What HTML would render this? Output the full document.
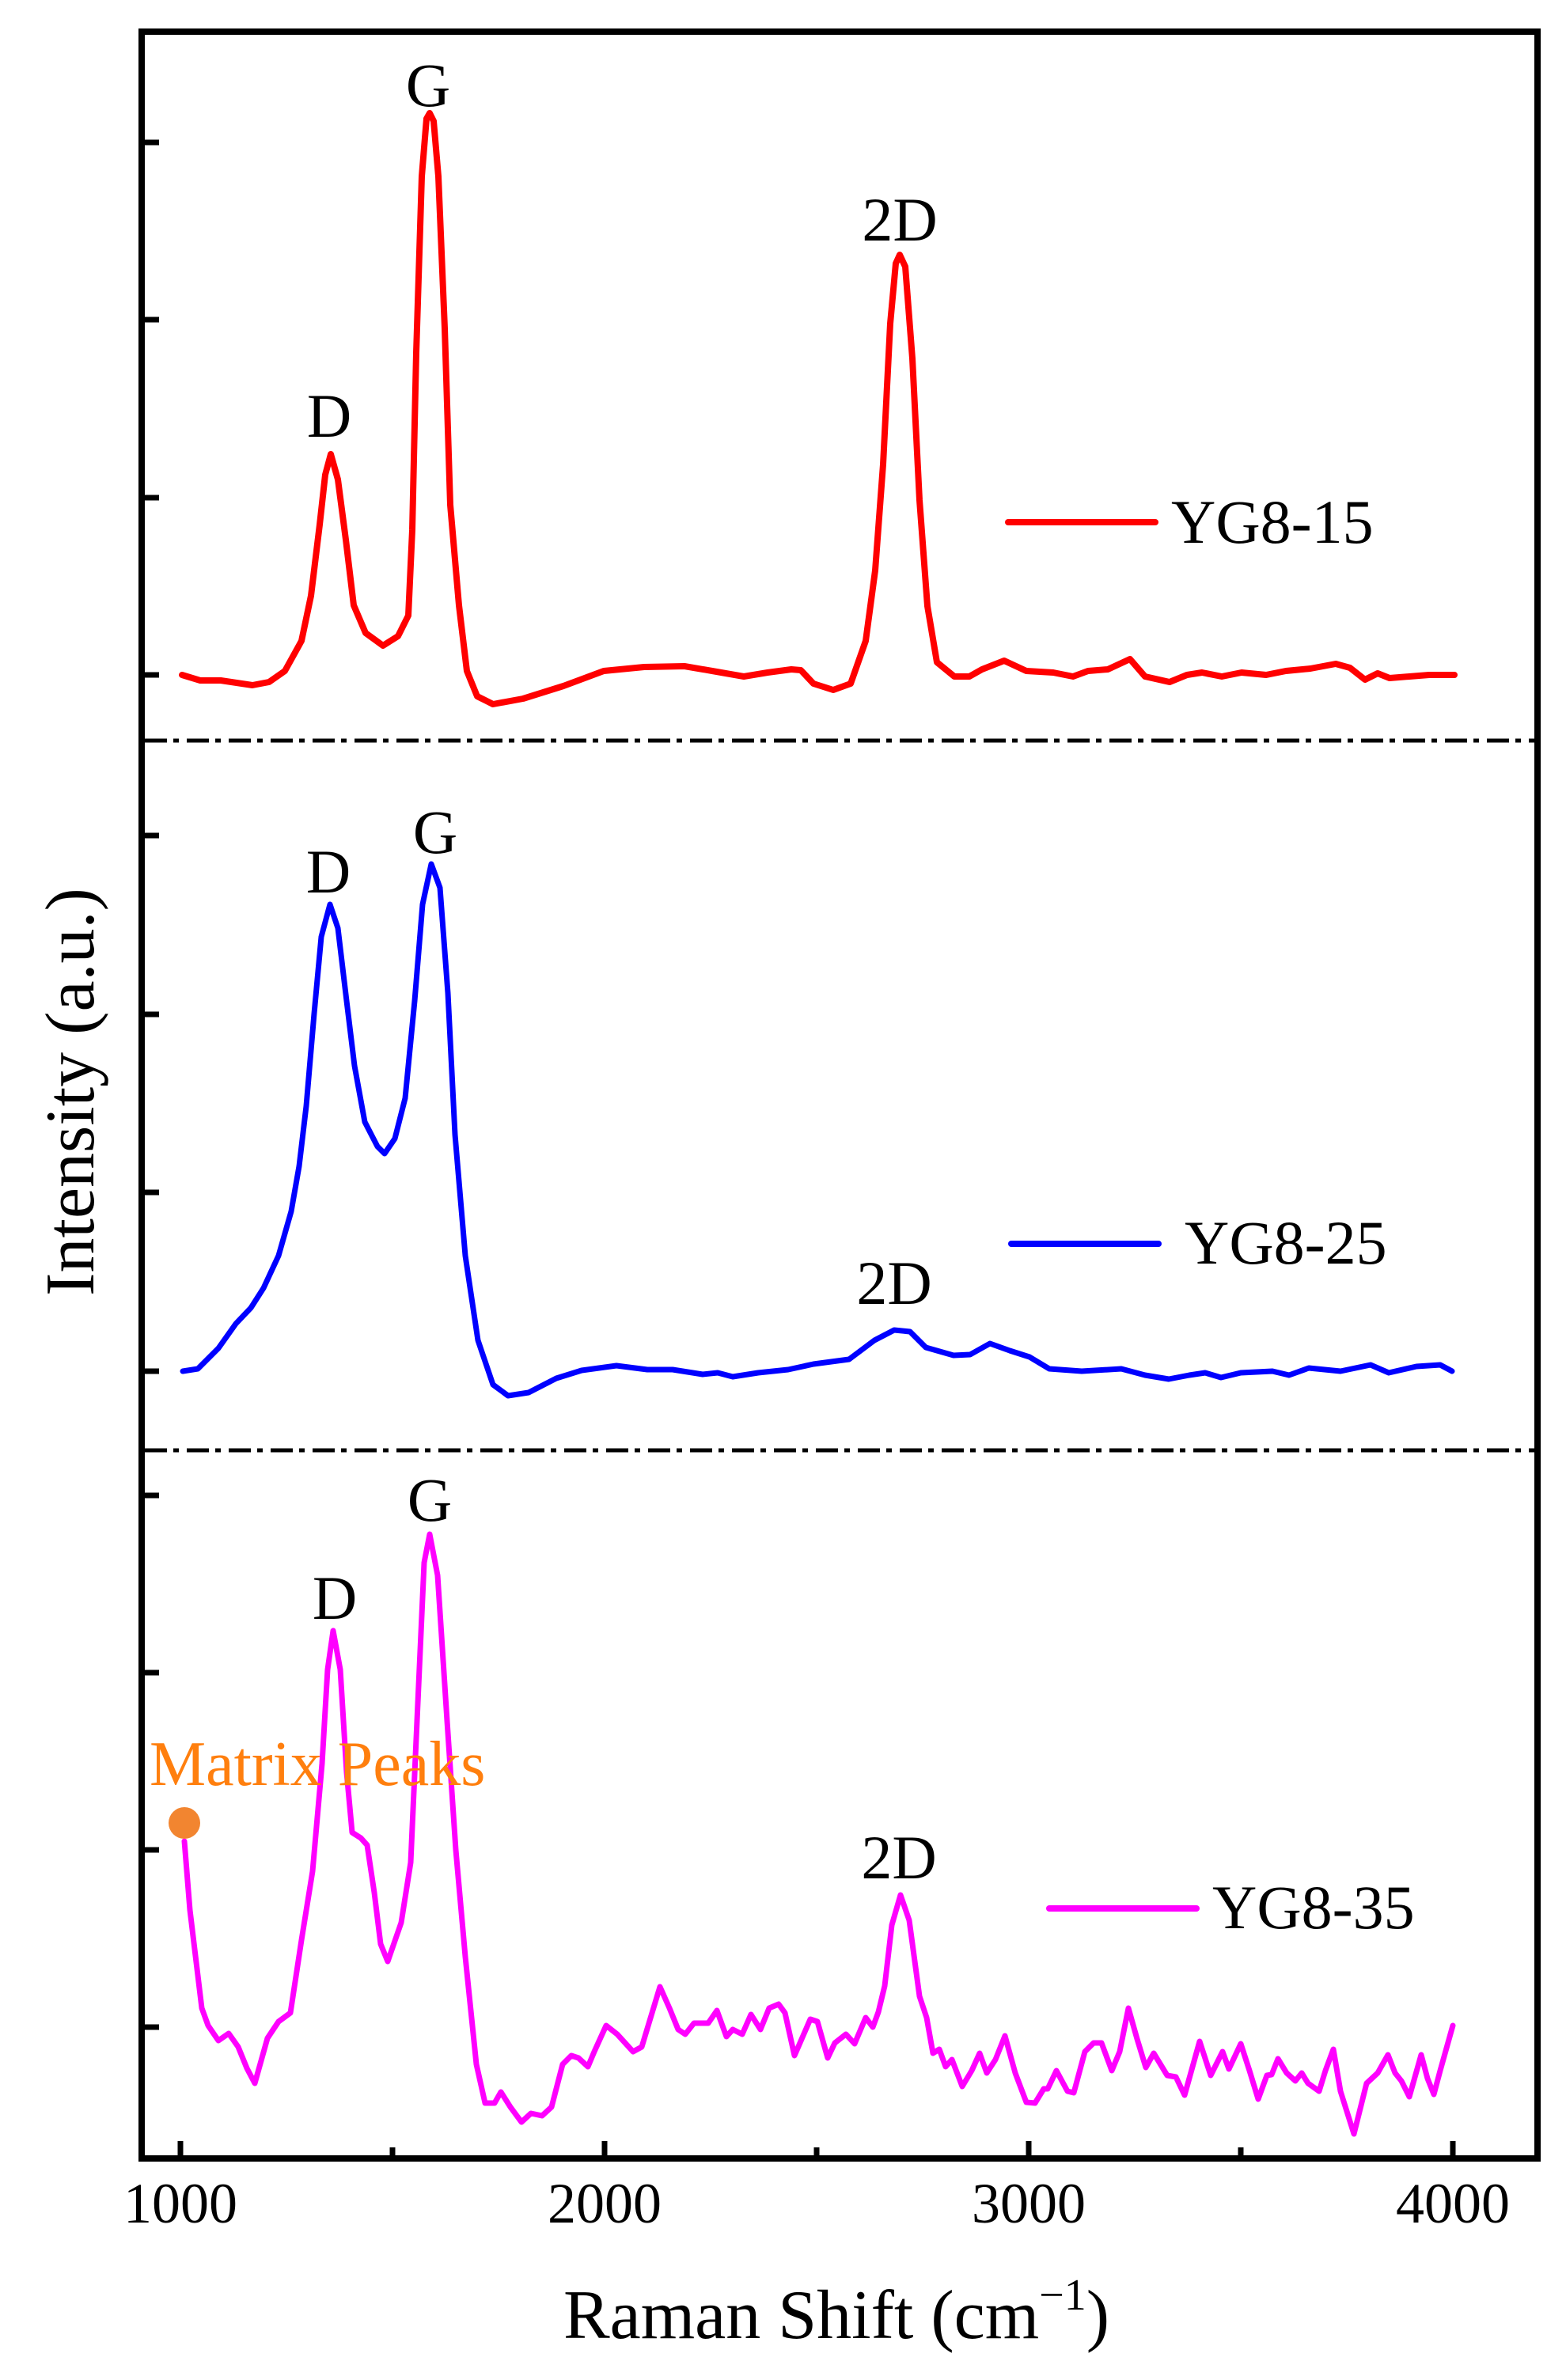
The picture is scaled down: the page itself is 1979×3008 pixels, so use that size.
<!DOCTYPE html>
<html><head><meta charset="utf-8"><style>
html,body{margin:0;padding:0;background:#fff;}
svg{display:block;}
text{font-family:"Liberation Serif","Times New Roman",serif;fill:#000;}
</style></head><body>
<svg width="1979" height="3008" viewBox="0 0 1979 3008" xmlns="http://www.w3.org/2000/svg">
<rect width="1979" height="3008" fill="#fff"/>
<!-- dash-dot separators -->
<g stroke="#000" stroke-width="5" stroke-dasharray="28,8,7,10" fill="none">
<line x1="183" y1="936" x2="1940" y2="936"/>
<line x1="183" y1="1833" x2="1940" y2="1833"/>
</g>
<!-- frame -->
<rect x="179" y="40" width="1764" height="2688" fill="none" stroke="#000" stroke-width="8"/>
<!-- y ticks -->
<g stroke="#000" stroke-width="7">
<line x1="179" y1="180" x2="201" y2="180"/><line x1="179" y1="404" x2="201" y2="404"/><line x1="179" y1="629" x2="201" y2="629"/><line x1="179" y1="853" x2="201" y2="853"/>
<line x1="179" y1="1056" x2="201" y2="1056"/><line x1="179" y1="1282" x2="201" y2="1282"/><line x1="179" y1="1507" x2="201" y2="1507"/><line x1="179" y1="1733" x2="201" y2="1733"/>
<line x1="179" y1="1890" x2="201" y2="1890"/><line x1="179" y1="2114" x2="201" y2="2114"/><line x1="179" y1="2338" x2="201" y2="2338"/><line x1="179" y1="2562" x2="201" y2="2562"/>
<!-- x ticks -->
<line x1="228" y1="2728" x2="228" y2="2706"/><line x1="764" y1="2728" x2="764" y2="2706"/><line x1="1300" y1="2728" x2="1300" y2="2706"/><line x1="1836" y1="2728" x2="1836" y2="2706"/>
<line x1="496" y1="2728" x2="496" y2="2714"/><line x1="1032" y1="2728" x2="1032" y2="2714"/><line x1="1568" y1="2728" x2="1568" y2="2714"/>
</g>
<!-- tick labels -->
<g font-size="72" text-anchor="middle">
<text x="228" y="2809">1000</text><text x="764" y="2809">2000</text><text x="1300" y="2809">3000</text><text x="1836" y="2809">4000</text>
</g>
<text x="1057" y="2955" font-size="88" text-anchor="middle">Raman Shift (cm<tspan font-size="56" dy="-36">−1</tspan><tspan dy="36">)</tspan></text>
<text transform="translate(118,1380) rotate(-90)" font-size="88" text-anchor="middle">Intensity (a.u.)</text>

<!-- red -->
<polyline fill="none" stroke="#ff0000" stroke-width="8" stroke-linejoin="round" stroke-linecap="round" points="230,853 253,860 279,860 319,866 340,862 360,848 381,810 393,753 404,663 411,600 418,574 427,606 437,682 447,765 462,800 484,816 503,804 516,778 521,670 526,446 533,223 539,150 543,143 548,153 554,223 562,415 569,638 580,765 590,848 603,880 623,890 661,883 712,867 763,848 814,843 865,842 900,848 940,855 970,850 1000,846 1012,847 1028,864 1053,872 1075,864 1094,810 1106,721 1116,587 1125,409 1132,333 1137,322 1144,337 1153,453 1162,632 1172,766 1184,837 1206,855 1225,855 1241,846 1269,835 1297,848 1331,850 1356,855 1375,848 1400,846 1428,833 1447,855 1478,862 1500,853 1519,850 1544,855 1569,850 1600,853 1625,848 1656,845 1688,839 1706,844 1725,859 1741,851 1756,857 1781,855 1806,853 1838,853"/>
<!-- blue -->
<polyline fill="none" stroke="#0000ff" stroke-width="7" stroke-linejoin="round" stroke-linecap="round" points="231,1733 250,1730 276,1704 298,1673 317,1653 333,1628 352,1587 368,1531 378,1474 387,1398 397,1281 406,1184 417,1143 427,1173 438,1265 448,1347 461,1418 477,1449 486,1458 499,1439 512,1388 524,1265 534,1143 545,1092 556,1122 566,1255 575,1434 588,1587 604,1694 623,1750 642,1764 668,1760 703,1742 735,1732 779,1726 818,1731 850,1731 888,1737 907,1735 926,1740 958,1735 996,1731 1028,1724 1073,1718 1105,1694 1130,1681 1150,1683 1170,1703 1205,1713 1226,1712 1251,1698 1276,1707 1301,1715 1326,1730 1367,1733 1417,1730 1447,1738 1477,1743 1503,1738 1523,1735 1543,1741 1568,1735 1608,1733 1629,1738 1654,1729 1694,1733 1732,1725 1755,1735 1790,1727 1820,1725 1835,1733"/>
<!-- magenta -->
<polyline fill="none" stroke="#ff00ff" stroke-width="7" stroke-linejoin="round" stroke-linecap="round" points="233,2327 240,2414 255,2538 263,2560 276,2579 289,2570 301,2587 312,2614 322,2633 338,2576 352,2555 367,2544 381,2452 395,2365 407,2229 414,2110 421,2061 430,2110 438,2240 445,2316 456,2323 464,2332 473,2392 481,2457 490,2479 507,2430 519,2354 527,2175 536,1975 543,1939 553,1991 565,2175 576,2338 588,2473 602,2609 613,2658 625,2658 633,2644 645,2663 659,2682 671,2671 685,2674 697,2663 711,2609 722,2598 731,2601 743,2612 751,2593 766,2560 780,2571 800,2593 811,2587 834,2511 846,2538 857,2565 866,2571 877,2557 895,2557 906,2541 918,2574 926,2565 938,2571 949,2546 961,2565 972,2538 984,2533 992,2544 1004,2598 1024,2552 1033,2555 1046,2601 1055,2582 1069,2571 1080,2583 1094,2550 1103,2562 1110,2543 1118,2510 1127,2433 1138,2395 1149,2427 1162,2523 1171,2550 1179,2595 1187,2590 1195,2612 1203,2603 1216,2637 1228,2617 1238,2595 1247,2620 1258,2603 1270,2573 1283,2620 1297,2657 1308,2658 1319,2640 1324,2640 1335,2617 1349,2643 1357,2645 1371,2593 1382,2582 1392,2582 1405,2617 1415,2593 1426,2538 1437,2577 1448,2613 1458,2595 1475,2623 1486,2625 1497,2648 1516,2580 1530,2623 1545,2593 1553,2615 1568,2583 1579,2617 1590,2653 1601,2623 1607,2622 1615,2602 1626,2620 1637,2630 1645,2620 1653,2633 1667,2643 1675,2617 1685,2590 1694,2643 1711,2697 1727,2633 1741,2620 1754,2597 1763,2620 1771,2630 1781,2650 1796,2597 1804,2627 1812,2647 1820,2617 1836,2560"/>
<circle cx="233" cy="2304" r="20" fill="#f28530"/>
<text x="189" y="2256" font-size="80" fill="#ff7f0e" style="fill:#ff7f0e">Matrix Peaks</text>

<!-- peak labels -->
<g font-size="78" text-anchor="middle">
<text x="416" y="552">D</text><text x="541" y="134">G</text><text x="1137" y="304">2D</text>
<text x="415" y="1128">D</text><text x="550" y="1078">G</text><text x="1130" y="1648">2D</text>
<text x="423" y="2046">D</text><text x="543" y="1922">G</text><text x="1136" y="2374">2D</text>
</g>
<!-- legends -->
<g stroke-width="8" stroke-linecap="round">
<line x1="1274" y1="660" x2="1460" y2="660" stroke="#ff0000"/>
<line x1="1278" y1="1572" x2="1464" y2="1572" stroke="#0000ff"/>
<line x1="1326" y1="2412" x2="1512" y2="2412" stroke="#ff00ff"/>
</g>
<g font-size="78">
<text x="1480" y="686">YG8-15</text>
<text x="1497" y="1597">YG8-25</text>
<text x="1532" y="2437">YG8-35</text>
</g>
</svg>
</body></html>
